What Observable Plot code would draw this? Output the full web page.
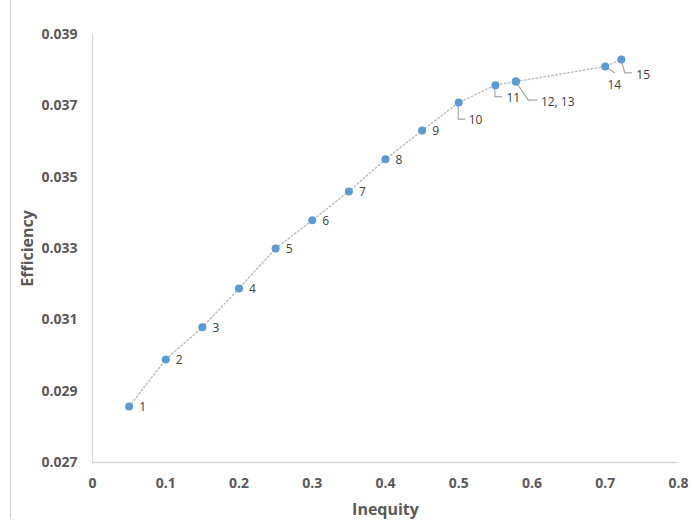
<!DOCTYPE html>
<html>
<head>
<meta charset="utf-8">
<script src="https://cdn.jsdelivr.net/npm/d3@7"></script>
<script src="https://cdn.jsdelivr.net/npm/@observablehq/plot@0.6"></script>
<style>
  body { margin: 0; background: #fff; }
  #chart { position: relative; width: 691px; height: 525px; }
  #chart svg { display: block; }
</style>
</head>
<body>
<div id="chart"></div>
<script>
// ---- data ----
const pointIds   = [1, 2, 3, 4, 5, 6, 7, 8, 9, 10, 11, 12, 13, 14, 15];
const inequity   = [0.05, 0.10, 0.15, 0.20, 0.25, 0.30, 0.35, 0.40, 0.45, 0.50, 0.55, 0.578, 0.578, 0.70, 0.722];
const efficiency = [0.02857, 0.02989, 0.03079, 0.03188, 0.03300, 0.03379, 0.03460, 0.03550, 0.03631, 0.03709, 0.03758, 0.03768, 0.03768, 0.03810, 0.03830];
const pointLabels = ["1", "2", "3", "4", "5", "6", "7", "8", "9", "10", "11", "12, 13", "", "14", "15"];
const xTicks = [0, 0.1, 0.2, 0.3, 0.4, 0.5, 0.6, 0.7, 0.8];
const xTickLabels = ["0", "0.1", "0.2", "0.3", "0.4", "0.5", "0.6", "0.7", "0.8"];
const yTicks = [0.027, 0.029, 0.031, 0.033, 0.035, 0.037, 0.039];
const yTickLabels = ["0.027", "0.029", "0.031", "0.033", "0.035", "0.037", "0.039"];
const xTitle = "Inequity";
const yTitle = "Efficiency";

const points = pointIds.map((id, i) => ({id, x: inequity[i], y: efficiency[i], label: pointLabels[i]}));

// ---- label placement (styling, not data) ----
const labelStyle = {
  "10":     {dx: 10, dy: 18, anchor: "start",  leader: [[0,0],[0,17],[7,17]]},
  "11":     {dx: 11, dy: 13, anchor: "start",  leader: [[0,0],[0,12],[7,12]]},
  "12, 13": {dx: 25, dy: 21, anchor: "start",  leader: [[0,0],[13,19],[22,19]]},
  "14":     {dx: 9,  dy: 19, anchor: "middle", leader: [[0,0],[10,7]]},
  "15":     {dx: 15, dy: 16, anchor: "start",  leader: [[0,0],[4,14],[11,14]]}
};
const defaultLabel = {dx: 10, dy: 1, anchor: "start", leader: null};

const FONT = "'Open Sans', 'Liberation Sans', sans-serif";
const W = 691, H = 525;
const mL = 92, mR = 13, mT = 34, mB = 63;

const labelMarks = points.filter(p => p.label).map(p => {
  const s = labelStyle[p.label] || defaultLabel;
  return Plot.text([p], {
    x: "x", y: "y", text: "label",
    dx: s.dx, dy: s.dy, textAnchor: s.anchor,
    fill: "#404040", fontSize: 12, fontFamily: FONT
  });
});

const plot = Plot.plot({
  width: W, height: H,
  marginLeft: mL, marginRight: mR, marginTop: mT, marginBottom: mB,
  style: {fontFamily: FONT, background: "#fff", overflow: "visible"},
  x: {domain: [0, 0.8]},
  y: {domain: [0.027, 0.039]},
  marks: [
    Plot.ruleX([0], {stroke: "#d9d9d9", strokeWidth: 1.3}),
    Plot.ruleY([0.027], {stroke: "#d9d9d9", strokeWidth: 1.3}),
    Plot.axisX({
      ticks: xTicks, tickSize: 0, tickPadding: 16,
      tickFormat: d => xTickLabels[xTicks.findIndex(t => Math.abs(t - d) < 1e-9)],
      fontSize: 14, fontWeight: "bold", fill: "#595959", label: null
    }),
    Plot.axisY({
      ticks: yTicks, tickSize: 0, tickPadding: 15,
      tickFormat: d => yTickLabels[yTicks.findIndex(t => Math.abs(t - d) < 1e-9)],
      fontSize: 14, fontWeight: "bold", fill: "#595959", label: null
    }),
    Plot.text([xTitle], {
      frameAnchor: "bottom", dy: 47, text: d => d,
      textAnchor: "middle", lineAnchor: "middle",
      fontSize: 16, fontWeight: "bold", fill: "#595959"
    }),
    Plot.text([yTitle], {
      frameAnchor: "left", dx: -65, rotate: -90, text: d => d,
      textAnchor: "middle", lineAnchor: "middle",
      fontSize: 16, fontWeight: "bold", fill: "#595959"
    }),
    Plot.line(points, {
      x: "x", y: "y", stroke: "#bfbfbf", strokeWidth: 1.5,
      strokeDasharray: "1.5,2.5", strokeLinecap: "round"
    }),
    ...labelMarks,
    Plot.dot(points, {x: "x", y: "y", r: 4, fill: "#5b9bd5", stroke: "none"})
  ]
});

// leader lines via the plot's own scales
const sx = plot.scale("x"), sy = plot.scale("y");
const svg = d3.select(plot);
const leaderG = svg.insert("g", ":scope > g:last-of-type")
  .attr("fill", "none").attr("stroke", "#a6a6a6").attr("stroke-width", 1.2);
points.filter(p => p.label && labelStyle[p.label] && labelStyle[p.label].leader).forEach(p => {
  const px = sx.apply(p.x), py = sy.apply(p.y);
  const pts = labelStyle[p.label].leader.map(([a, b]) => [px + a, py + b]);
  leaderG.append("path").attr("d", d3.line()(pts));
});
// chart-area edge on the left
svg.append("line").attr("x1", 10.5).attr("x2", 10.5).attr("y1", 0).attr("y2", 519)
  .attr("stroke", "#d0d0d0").attr("stroke-width", 1);

document.getElementById("chart").appendChild(plot);
</script>
</body>
</html>
